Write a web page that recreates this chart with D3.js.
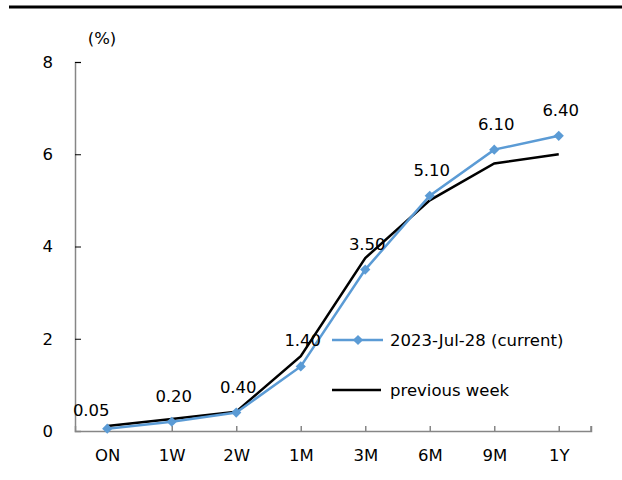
<!DOCTYPE html>
<html lang="en">
    <head>
        <meta charset="utf-8">
        <title>Yield curve</title>
        <script type="text/javascript" src="https://cdn.jsdelivr.net/npm/d3@7"></script>
        <style>
            body { margin: 0; background: #fff; }
            text { font-family: Tahoma, "DejaVu Sans", sans-serif; fill: #000; }
        </style>
    </head>
    <body>
        <div class="chart"></div>
        <script type="text/javascript">
            // data
            var tenors = ["ON", "1W", "2W", "1M", "3M", "6M", "9M", "1Y"];
            var current = [0.05, 0.20, 0.40, 1.40, 3.50, 5.10, 6.10, 6.40];
            var previous = [0.11, 0.26, 0.42, 1.62, 3.75, 5.00, 5.80, 6.00];
            var yTicks = [0, 2, 4, 6, 8];
            var seriesNames = ["2023-Jul-28 (current)", "previous week"];

            var w = 622, h = 480;
            var plotLeft = 75, plotRight = 591, plotTop = 62, plotBottom = 431;
            var blue = "#5b9bd5";
            var fs = "16.5px";

            var svg = d3.select("div.chart")
                        .append("svg")
                        .attr("width", w)
                        .attr("height", h);

            // thick rule at top
            svg.append("line")
               .attr("x1", 9).attr("x2", w)
               .attr("y1", 7).attr("y2", 7)
               .attr("stroke", "#000")
               .attr("stroke-width", 3);

            // scales
            var xScale = d3.scalePoint()
                           .domain(tenors)
                           .range([plotLeft, plotRight])
                           .padding(0.5);
            var yScale = d3.scaleLinear()
                           .domain([0, 8])
                           .range([plotBottom, plotTop]);

            // axes
            var axisColor = "#868686";
            var yAxis = d3.axisLeft(yScale)
                          .tickValues(yTicks)
                          .tickSize(-6)
                          .tickPadding(22)
                          .tickFormat(d3.format("d"));
            var gy = svg.append("g")
                        .attr("class", "y axis")
                        .attr("transform", "translate(" + plotLeft + ",0)")
                        .call(yAxis);
            gy.select(".domain").attr("stroke", axisColor).attr("stroke-width", 1.5);
            gy.selectAll(".tick line").attr("stroke", "#000").attr("stroke-width", 1);
            gy.selectAll(".tick text").style("font-size", fs).attr("fill", "#000");

            var xAxis = d3.axisBottom(xScale)
                          .tickSize(-5)
                          .tickPadding(18);
            var gx = svg.append("g")
                        .attr("class", "x axis")
                        .attr("transform", "translate(0," + plotBottom + ")")
                        .call(xAxis);
            gx.select(".domain").attr("stroke", axisColor).attr("stroke-width", 1.5);
            gx.selectAll(".tick line").attr("stroke", axisColor).attr("stroke-width", 1.5);
            gx.selectAll(".tick text").style("font-size", fs).attr("fill", "#000");
            // end tick at right edge of axis
            gx.append("line")
              .attr("x1", plotRight).attr("x2", plotRight)
              .attr("y1", 0).attr("y2", -5)
              .attr("stroke", axisColor)
              .attr("stroke-width", 1.5);

            // unit label
            svg.append("text")
               .attr("x", 102).attr("y", 44)
               .attr("text-anchor", "middle")
               .style("font-size", fs)
               .text("(%)");

            // lines
            var line = d3.line()
                         .x(function(d, i){ return xScale(tenors[i]); })
                         .y(function(d){ return yScale(d); });

            svg.append("path")
               .datum(previous)
               .attr("d", line)
               .attr("fill", "none")
               .attr("stroke", "#000")
               .attr("stroke-width", 2.5);

            svg.append("path")
               .datum(current)
               .attr("d", line)
               .attr("fill", "none")
               .attr("stroke", blue)
               .attr("stroke-width", 2.5);

            // diamond = square turned 45 degrees
            var diamond = d3.symbol().type(d3.symbolSquare).size(52);
            svg.selectAll("path.marker")
               .data(current)
               .enter()
               .append("path")
               .attr("class", "marker")
               .attr("d", diamond)
               .attr("transform", function(d, i){
                   return "translate(" + xScale(tenors[i]) + "," + yScale(d) + ") rotate(45)";
               })
               .attr("fill", blue);

            // data labels
            svg.selectAll("text.label")
               .data(current)
               .enter()
               .append("text")
               .attr("class", "label")
               .attr("x", function(d, i){ return xScale(tenors[i]) + (i === 0 ? -16 : 2); })
               .attr("y", function(d, i){ return yScale(d) - (i === 0 ? 13 : 20); })
               .attr("text-anchor", "middle")
               .style("font-size", fs)
               .text(function(d){ return d3.format(".2f")(d); });

            // legend
            var legend = svg.append("g").attr("transform", "translate(332,340)");
            legend.append("line")
                  .attr("x1", 0).attr("x2", 51)
                  .attr("y1", 0).attr("y2", 0)
                  .attr("stroke", blue).attr("stroke-width", 2.5);
            legend.append("path")
                  .attr("d", diamond)
                  .attr("transform", "translate(26,0) rotate(45)")
                  .attr("fill", blue);
            legend.append("text")
                  .attr("x", 58).attr("y", 6)
                  .style("font-size", fs)
                  .text(seriesNames[0]);
            legend.append("line")
                  .attr("x1", 0).attr("x2", 49)
                  .attr("y1", 50).attr("y2", 50)
                  .attr("stroke", "#000").attr("stroke-width", 2.5);
            legend.append("text")
                  .attr("x", 58).attr("y", 56)
                  .style("font-size", fs)
                  .text(seriesNames[1]);
        </script>
    </body>
</html>
